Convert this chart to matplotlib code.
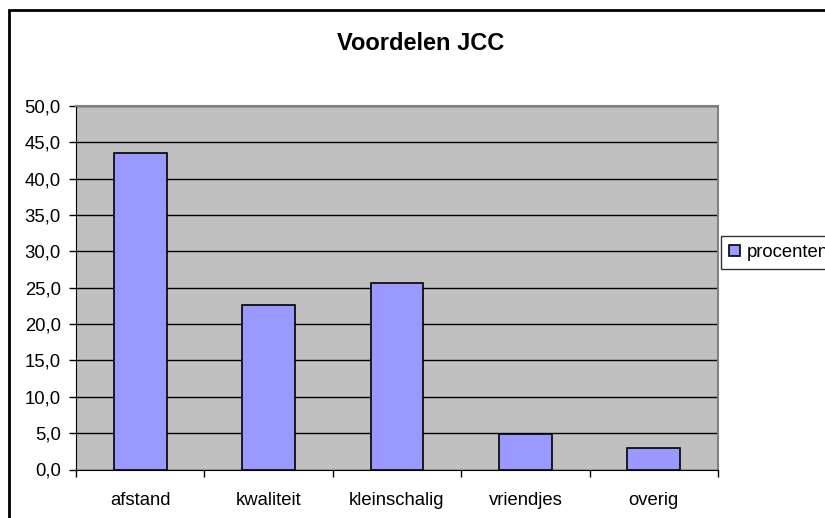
import numpy as np
import matplotlib.pyplot as plt
from matplotlib.ticker import FuncFormatter, FixedLocator
from matplotlib.patches import Rectangle

categorieen = ['afstand', 'kwaliteit', 'kleinschalig', 'vriendjes', 'overig']
procenten = [43.5, 22.6, 25.7, 4.9, 2.9]
y_ticks = [0, 5, 10, 15, 20, 25, 30, 35, 40, 45, 50]

plt.rcParams['font.family'] = ['Liberation Sans', 'DejaVu Sans']

fig = plt.figure(figsize=(8.25, 5.18), dpi=100)
fig.patch.set_facecolor('white')
ax = fig.add_axes([76/825, 1-469.5/518, (718-76)/825, (469.5-106)/518])
ax.set_facecolor('#C0C0C0')

x = np.arange(len(categorieen))
ax.bar(x, procenten, width=0.41, color='#9999FF', edgecolor='black',
       linewidth=1.2, label='procenten', zorder=3)

ax.set_ylim(0, 50)
ax.set_xlim(-0.5, len(categorieen) - 0.5)
ax.yaxis.set_major_locator(FixedLocator(y_ticks))
ax.yaxis.set_major_formatter(FuncFormatter(lambda v, p: f'{v:.1f}'.replace('.', ',')))
ax.grid(axis='y', color='black', linewidth=1.0, zorder=1)
ax.set_axisbelow(True)

# ticks op de grenzen, labels in het midden
ax.set_xticks(np.arange(-0.5, len(categorieen)), labels=[''] * (len(categorieen) + 1))
ax.set_xticks(x, labels=categorieen, minor=True)
ax.tick_params(axis='x', which='major', length=5, width=1, direction='out')
ax.tick_params(axis='x', which='minor', length=0, pad=16, labelsize=13.3)
ax.tick_params(axis='y', length=5, width=1, direction='out', pad=6, labelsize=13.3)

for s in ['top', 'right']:
    ax.spines[s].set_color('#808080')
    ax.spines[s].set_linewidth(1.5)
ax.spines['left'].set_color('black')
ax.spines['bottom'].set_color('black')

fig.text(421/825, 1 - 44/518, 'Voordelen JCC', ha='center', va='center',
         fontsize=17, fontweight='bold')

leg = fig.legend(loc='center left', bbox_to_anchor=(721/825, 1 - 252.5/518),
                 frameon=True, fancybox=False, fontsize=13.3, handlelength=0.6,
                 handleheight=0.6, handletextpad=0.35, borderpad=0.45,
                 borderaxespad=0)
leg.get_frame().set_edgecolor('black')
leg.get_frame().set_linewidth(1.0)

fig.patches.append(Rectangle((9/825, -0.1), 1.0, 1.1 - 10.5/518, transform=fig.transFigure,
                             fill=False, edgecolor='black', linewidth=2))

fig.savefig('out.png', dpi=100)
